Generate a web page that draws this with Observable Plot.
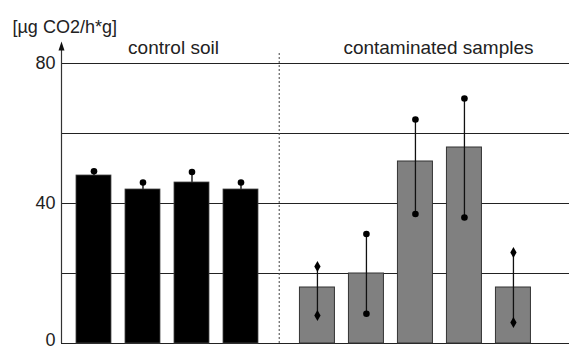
<!DOCTYPE html>
<html>
<head>
<meta charset="utf-8">
<script src="https://cdn.jsdelivr.net/npm/d3@7"></script>
<script src="https://cdn.jsdelivr.net/npm/@observablehq/plot@0.6"></script>
<style>
  html, body { margin: 0; padding: 0; background: #fff; overflow: hidden; }
  #chart svg { display: block; font-family: "Liberation Sans", Arial, Helvetica, sans-serif; }
</style>
</head>
<body>
<div id="chart"></div>
<script>
// Soil respiration, control soil vs. contaminated samples
const controlValues = [48, 44, 46, 44];
const controlHigh = [49.2, 46, 49, 46];
const sampleValues = [16, 20, 52, 56, 16];
const sampleLow = [8, 8.5, 37, 36, 6];
const sampleHigh = [22, 31.3, 64, 70, 26];
const groupLabels = ["control soil", "contaminated samples"];
const unitLabel = "[µg CO2/h*g]";
const yTicks = [0, 40, 80];
const gridValues = [20, 40, 60, 80];

// layout / style
const groupGap = 0.56;            // extra spacing between the two groups (in bar slots)
const barHalf = 0.357;            // half bar width (in bar slots)
const xDomain = [-0.663, 9.704];
const yDomain = [0, 86];
const endSymbols = ["diamond", "circle", "circle", "circle", "diamond"];
const ink = "#222";

const control = controlValues.map((v, i) => ({pos: i, value: v, high: controlHigh[i]}));
const samples = sampleValues.map((v, i) => ({
  pos: controlValues.length + groupGap + i,
  value: v, low: sampleLow[i], high: sampleHigh[i], symbol: endSymbols[i]
}));
const lastControl = control[control.length - 1].pos;
const firstSample = samples[0].pos;
const divider = (lastControl + firstSample) / 2;

const sampleEnds = samples.flatMap(d => [
  {pos: d.pos, y: d.low, symbol: d.symbol},
  {pos: d.pos, y: d.high, symbol: d.symbol}
]);

const controlCenter = d3.mean(control, d => d.pos);
const sampleCenter = d3.mean(samples, d => d.pos);

// filled arrowhead for the top of the y axis
const arrowHead = {
  draw(ctx) {
    ctx.moveTo(0, -1);
    ctx.lineTo(-3, 8);
    ctx.lineTo(3, 8);
    ctx.closePath();
  }
};

const chart = Plot.plot({
  width: 569,
  height: 346,
  marginLeft: 61,
  marginRight: 0,
  marginTop: 42,
  marginBottom: 3,
  x: {type: "linear", domain: xDomain, axis: null},
  y: {domain: yDomain, axis: null},
  marks: [
    Plot.ruleY(gridValues, {stroke: ink, strokeWidth: 1}),
    Plot.ruleY([0], {stroke: ink, strokeWidth: 1}),
    Plot.ruleX([divider], {y1: 0, y2: 83, stroke: "#444", strokeWidth: 1, strokeDasharray: "2,2"}),
    // control soil
    Plot.ruleX(control, {x: "pos", y1: "value", y2: "high", stroke: "#000", strokeWidth: 1.3}),
    Plot.rectY(control, {x1: d => d.pos - barHalf, x2: d => d.pos + barHalf, y1: 0, y2: "value", fill: "#000", stroke: "#444", strokeWidth: 0.8}),
    Plot.dot(control, {x: "pos", y: "high", r: 3.3, fill: "#000"}),
    // contaminated samples
    Plot.rectY(samples, {x1: d => d.pos - barHalf, x2: d => d.pos + barHalf, y1: 0, y2: "value", fill: "#808080", stroke: "#333", strokeWidth: 1}),
    Plot.ruleX(samples, {x: "pos", y1: "low", y2: "high", stroke: "#111", strokeWidth: 1.3}),
    Plot.dot(sampleEnds, {x: "pos", y: "y", symbol: "symbol", r: 3.3, fill: "#000"}),
    // y axis with arrow
    Plot.ruleX([xDomain[0]], {y1: 0, y2: 84, stroke: "#333", strokeWidth: 1.2}),
    Plot.dot([null], {frameAnchor: "top-left", symbol: arrowHead, fill: "#111", stroke: "none"}),
    Plot.axisY(yTicks.filter(t => t > 0), {anchor: "left", tickSize: 0, tickPadding: 6, fontSize: 18, color: ink, label: null}),
    Plot.axisY(yTicks.filter(t => t === 0), {anchor: "left", tickSize: 0, tickPadding: 6, fontSize: 18, color: ink, label: null, dy: -3.5}),
    // group headings and unit
    Plot.text([groupLabels[0]], {x: controlCenter, y: 80, dx: 6, dy: -10, lineAnchor: "bottom", fontSize: 19, fill: ink}),
    Plot.text([groupLabels[1]], {x: sampleCenter, y: 80, dx: 23, dy: -10, lineAnchor: "bottom", fontSize: 19, fill: ink}),
    Plot.text([unitLabel], {frameAnchor: "top-left", dx: -49, dy: -10, lineAnchor: "bottom", textAnchor: "start", fontSize: 18, fill: ink})
  ]
});
document.getElementById("chart").append(chart);
</script>
</body>
</html>
